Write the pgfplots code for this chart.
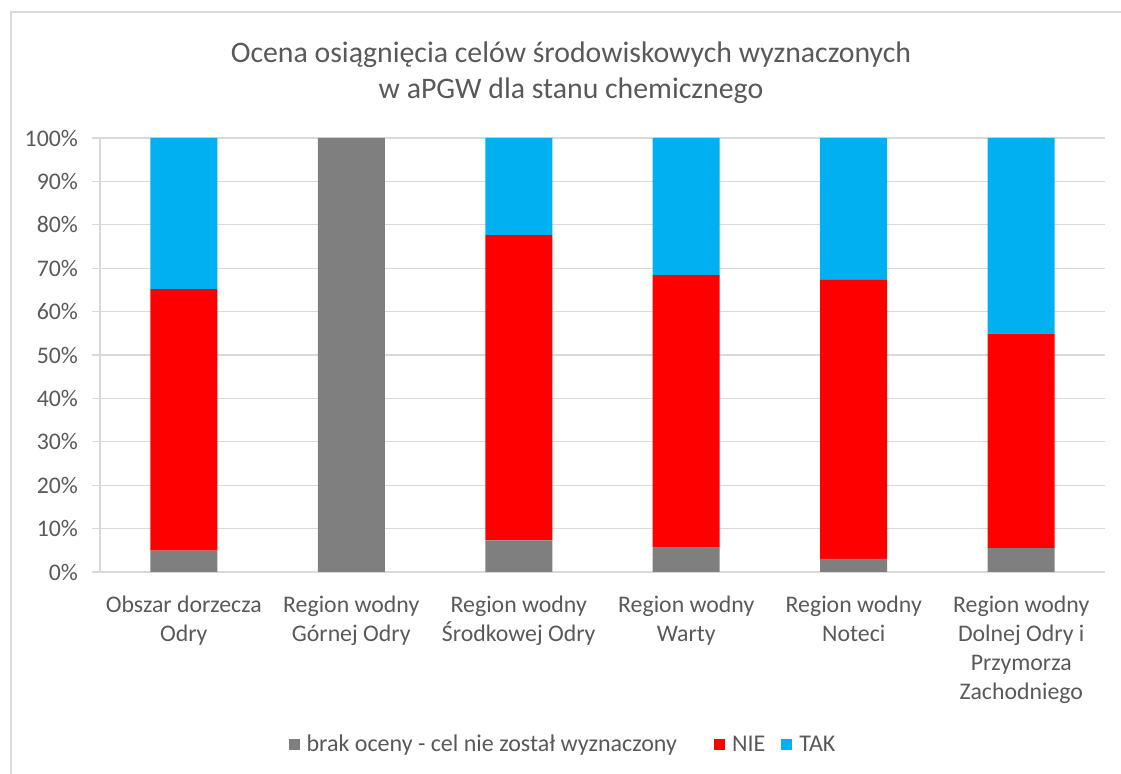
\documentclass[border=0pt]{standalone}
\usepackage{fontspec}
\setmainfont{Carlito}
\usepackage{pgfplots}
\pgfplotsset{compat=1.18}
\definecolor{txt}{HTML}{595959}
\definecolor{gridc}{HTML}{D9D9D9}
\definecolor{cgray}{HTML}{7F7F7F}
\definecolor{cred}{HTML}{FF0000}
\definecolor{cblue}{HTML}{00B0F0}

\begin{document}
\begin{tikzpicture}
\useasboundingbox (0pt,0pt) rectangle (560.5pt,387pt);
\draw[gridc, line width=0.6pt] (5.5pt,-20pt) -- (5.5pt,381pt) -- (600pt,381pt);
\node[txt, font=\fontsize{14.9}{18}\selectfont, align=center] at (285.5pt,350.5pt)
  {Ocena osiągnięcia celów środowiskowych wyznaczonych\\w aPGW dla stanu chemicznego};
\begin{axis}[
    at={(50pt,101pt)}, anchor=south west,
    scale only axis, width=502.5pt, height=217pt,
    ybar stacked, bar width=0.4,
    xmin=-0.5, xmax=5.5, ymin=0, ymax=100,
    xtick={0,...,5},
    xticklabels={{Obszar dorzecza\\Odry},{Region wodny\\Górnej Odry},{Region wodny\\Środkowej Odry},{Region wodny\\Warty},{Region wodny\\Noteci},{Region wodny\\Dolnej Odry i\\Przymorza\\Zachodniego}},
    ytick={0,10,...,100},
    yticklabel={\pgfmathprintnumber{\tick}\%},
    /pgf/number format/assume math mode=true,
    axis x line*=bottom, axis y line*=left,
    axis line style={gridc, line width=0.6pt},
    ymajorgrids, grid style={gridc, line width=0.6pt},
    xtick style={draw=none},
    ytick style={gridc, line width=0.6pt},
    tick align=outside, major tick length=4pt,
    ticklabel style={txt, font=\fontsize{11.9}{14.5}\selectfont},
    xticklabel style={align=center, yshift=-4.5pt},
    yticklabel style={xshift=-3.5pt},
    legend image code/.code={\fill[#1] (0pt,-2.75pt) rectangle (5.5pt,2.75pt);},
    legend style={at={(0.4607,-0.3986)}, anchor=center, draw=none, fill=none,
      legend columns=-1, font=\fontsize{12}{14}\selectfont, text=txt,
      /tikz/every odd column/.append style={column sep=2.5pt},
      /tikz/every even column/.append style={column sep=7pt},
      nodes={inner sep=1pt}},
]
\addplot[fill=cgray, draw=none] coordinates {(0,4.9) (1,100) (2,7.3) (3,5.6) (4,3.0) (5,5.5)};
\addplot[fill=cred, draw=none] coordinates {(0,60.3) (1,0) (2,70.3) (3,62.8) (4,64.3) (5,49.4)};
\addplot[fill=cblue, draw=none] coordinates {(0,34.8) (1,0) (2,22.4) (3,31.6) (4,32.7) (5,45.1)};
\legend{brak oceny - cel nie został wyznaczony\hspace*{10.5pt}, NIE, TAK}
\end{axis}
\end{tikzpicture}
\end{document}
